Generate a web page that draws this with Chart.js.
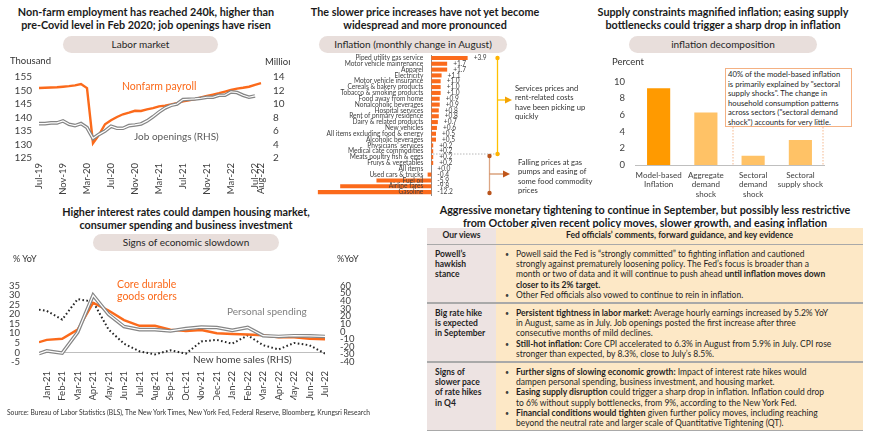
<!DOCTYPE html>
<html>
<head>
<meta charset="utf-8">
<script src="https://cdn.jsdelivr.net/npm/chart.js@4.4.0/dist/chart.umd.min.js"></script>
<style>
  body { margin: 0; width: 870px; height: 439px; background: #fff; position: relative; overflow: hidden;
         font-family: Lato, "Open Sans", sans-serif; color: #262626; }
  .abs { position: absolute; white-space: nowrap; }
  .title { position: absolute; font-weight: bold; font-size: 10.8px; line-height: 13px; text-align: center;
           white-space: nowrap; transform: translateX(-50%); color: #1a1a1a; }
  .pill { position: absolute; background: #e8dedb; border-radius: 9px; font-size: 10px; text-align: center;
          line-height: 17px; height: 17px; color: #262626; }
  canvas { position: absolute; }
  .note { position: absolute; font-size: 7.6px; line-height: 9.3px; color: #333; white-space: nowrap; }
  .tbl { position: absolute; left: 427px; top: 228px; width: 436px; height: 203px; background: #a9a9a9; }
  .cell { position: absolute; box-sizing: border-box; font-size: 8.5px; line-height: 10.2px; color: #1f1f1f; }
  .lc { left: 0; width: 69px; background: #ede3e2; padding: 4px 0 0 8px; font-weight: bold; }
  .rc { left: 69px; width: 367px; background: #fde8c6; padding: 4px 0 0 20px; white-space: nowrap; }
  .rc div { position: relative; }
  .rc div::before { content: "\2022"; position: absolute; left: -11px; top: 0; font-size: 7px; color: #404040; }
</style>
</head>
<body>

<!-- titles -->
<div class="title" style="left:146px;top:5px">Non-farm employment has reached 240k, higher than<br>pre-Covid level in Feb 2020; job openings have risen</div>
<div class="title" style="left:425px;top:5px">The slower price increases have not yet become<br>widespread and more pronounced</div>
<div class="title" style="left:723px;top:5px">Supply constraints magnified inflation; easing supply<br>bottlenecks could trigger a sharp drop in inflation</div>
<div class="title" style="left:186px;top:205px">Higher interest rates could dampen housing market,<br>consumer spending and business investment</div>
<div class="title" style="left:645px;top:203px">Aggressive monetary tightening to continue in September, but possibly less restrictive<br>from October given recent policy moves, slower growth, and easing inflation</div>

<div class="pill" style="left:63px;top:36px;width:155px">Labor market</div>
<div class="pill" style="left:319px;top:36px;width:188px">Inflation (monthly change in August)</div>
<div class="pill" style="left:629px;top:36px;width:188px">inflation decomposition</div>
<div class="pill" style="left:93px;top:234px;width:186px">Signs of economic slowdown</div>

<!-- chart 1 -->
<canvas id="laborChart" width="290" height="144" style="left:0;top:60px"></canvas>
<div class="abs" style="left:10px;top:55px;font-size:9.5px;color:#333">Thousand</div>
<div class="abs" style="left:265px;top:56px;width:25px;overflow:hidden;font-size:9.5px;color:#333">Million</div>
<div class="abs" style="left:122px;top:80px;font-size:10.5px;color:#fb6a1b">Nonfarm payroll</div>
<div class="abs" style="left:134px;top:130px;font-size:10px;color:#595959">Job openings (RHS)</div>

<!-- chart 2 -->
<canvas id="cpiChart" width="175" height="146" style="left:316px;top:52px"></canvas>
<svg class="abs" style="left:0;top:0" width="870" height="439">
  <line x1="433" y1="154" x2="500" y2="154" stroke="#a6a6a6" stroke-width="0.8" stroke-dasharray="1.5 1.5"/>
  <line x1="497.5" y1="58" x2="497.5" y2="154" stroke="#ffc000" stroke-width="1.3"/>
  <circle cx="497.5" cy="58" r="2.2" fill="#ffb300"/>
  <circle cx="497.5" cy="154" r="2.2" fill="#ffb300"/>
  <line x1="497.5" y1="100" x2="506" y2="100" stroke="#ffc000" stroke-width="1.3"/>
  <polygon points="505,96.5 512,100 505,103.5" fill="#f5a300"/>
  <line x1="489.5" y1="156" x2="489.5" y2="193" stroke="#dca684" stroke-width="1.3"/>
  <circle cx="489.5" cy="156" r="2.2" fill="#b9541c"/>
  <circle cx="489.5" cy="193" r="2.2" fill="#b9541c"/>
  <line x1="489.5" y1="174" x2="504" y2="174" stroke="#d08a5c" stroke-width="1.2"/>
  <polygon points="503,170.5 510,174 503,177.5" fill="#c0561a"/>
  <line x1="733" y1="127" x2="733" y2="165" stroke="#f4b183" stroke-width="0.9" stroke-dasharray="1.5 1.5"/>
  <line x1="823" y1="127" x2="823" y2="165" stroke="#f4b183" stroke-width="0.9" stroke-dasharray="1.5 1.5"/>
</svg>
<div class="note" style="left:515px;top:84px">Services prices and<br>rent-related costs<br>have been picking up<br>quickly</div>
<div class="note" style="left:518px;top:158px">Falling prices at gas<br>pumps and easing of<br>some food commodity<br>prices</div>

<!-- chart 3 -->
<canvas id="decompChart" width="235" height="142" style="left:595px;top:66px"></canvas>
<div class="abs" style="left:612px;top:56px;font-size:9.5px;color:#333">Percent</div>
<div class="abs" style="left:725px;top:68px;width:127px;height:59px;box-sizing:border-box;border:1px solid #f4b183;background:#fff;
     padding:1px 0 0 2px;font-size:7.7px;line-height:9.5px;color:#262626">40% of the model-based inflation<br>is primarily explained by "sectoral<br>supply shocks". The change in<br>household consumption patterns<br>across sectors ("sectoral demand<br>shock") accounts for very little.</div>

<!-- chart 4 -->
<canvas id="slowChart" width="370" height="150" style="left:0;top:262px"></canvas>
<div class="abs" style="left:13px;top:253px;font-size:9px;color:#333">% YoY</div>
<div class="abs" style="left:337px;top:253px;font-size:9px;color:#333">%YoY</div>
<div class="abs" style="left:117px;top:278px;font-size:10.5px;line-height:12px;color:#fb6a1b">Core durable<br>goods orders</div>
<div class="abs" style="left:227px;top:305px;font-size:10px;color:#7f7f7f">Personal spending</div>
<div class="abs" style="left:193px;top:353px;font-size:10px;color:#404040">New home sales (RHS)</div>

<!-- table -->
<div class="tbl">
  <div class="cell lc" style="top:0;height:16px;padding:2px 0 0 0;text-align:center">Our views</div>
  <div class="cell rc" style="top:0;height:16px;padding:2px 0 0 0;text-align:center;font-weight:bold">Fed officials’ comments, forward guidance, and key evidence</div>

  <div class="cell lc" style="top:17px;height:57px">Powell’s<br>hawkish<br>stance</div>
  <div class="cell rc" style="top:17px;height:57px">
    <div>Powell said the Fed is “strongly committed” to fighting inflation and cautioned<br>strongly against prematurely loosening policy. The Fed’s focus is broader than a<br>month or two of data and it will continue to push ahead <b>until inflation moves down<br>closer to its 2% target.</b></div>
    <div>Other Fed officials also vowed to continue to rein in inflation.</div>
  </div>

  <div class="cell lc" style="top:76px;height:57px">Big rate hike<br>is expected<br>in September</div>
  <div class="cell rc" style="top:76px;height:57px">
    <div><b>Persistent tightness in labor market:</b> Average hourly earnings increased by 5.2% YoY<br>in August, same as in July. Job openings posted the first increase after three<br>consecutive months of mild declines.</div>
    <div><b>Still-hot inflation:</b> Core CPI accelerated to 6.3% in August from 5.9% in July. CPI rose<br>stronger than expected, by 8.3%, close to July’s 8.5%.</div>
  </div>

  <div class="cell lc" style="top:135px;height:67px">Signs of<br>slower pace<br>of rate hikes<br>in Q4</div>
  <div class="cell rc" style="top:135px;height:67px">
    <div><b>Further signs of slowing economic growth:</b> Impact of interest rate hikes would<br>dampen personal spending, business investment, and housing market.</div>
    <div><b>Easing supply disruption</b> could trigger a sharp drop in inflation. Inflation could drop<br>to 6% without supply bottlenecks, from 9%, according to the New York Fed.</div>
    <div><b>Financial conditions would tighten</b> given further policy moves, including reaching<br>beyond the neutral rate and larger scale of Quantitative Tightening (QT).</div>
  </div>
</div>

<div class="abs" style="left:7px;top:408px;font-size:6.7px;color:#333">Source: Bureau of Labor Statistics (BLS), The New York Times, New York Fed, Federal Reserve, Bloomberg, Krungsri Research</div>

<script>
// ---- labor market (monthly, Jul-19 .. Aug-22) ----
const laborMonths = ['Jul-19','Aug-19','Sep-19','Oct-19','Nov-19','Dec-19','Jan-20','Feb-20','Mar-20','Apr-20',
  'May-20','Jun-20','Jul-20','Aug-20','Sep-20','Oct-20','Nov-20','Dec-20','Jan-21','Feb-21','Mar-21','Apr-21',
  'May-21','Jun-21','Jul-21','Aug-21','Sep-21','Oct-21','Nov-21','Dec-21','Jan-22','Feb-22','Mar-22','Apr-22',
  'May-22','Jun-22','Jul-22','Aug-22'];
const laborShown = ['Jul-19','Nov-19','Mar-20','Jul-20','Nov-20','Mar-21','Jul-21','Nov-21','Mar-22','Jul-22','Aug-22'];
const nonfarmPayroll = [150.9,151.0,151.1,151.2,151.4,151.6,151.9,152.4,150.9,130.5,133.6,137.5,139.0,140.2,141.2,
  141.8,142.5,142.4,143.0,143.5,144.1,144.4,144.8,145.3,146.0,146.4,146.8,147.4,148.0,148.5,149.0,149.6,150.2,
  150.7,151.0,151.4,152.1,152.7];
const jobOpenings = [7.1,7.1,7.2,7.2,7.5,7.0,6.8,7.1,6.5,4.9,5.5,6.0,6.7,6.4,6.4,6.8,6.9,7.05,7.5,8.1,8.8,9.4,
  9.8,10.0,10.65,10.7,10.75,10.85,11.0,11.0,11.3,11.3,11.8,11.7,11.3,11.0,11.2,null];

// ---- CPI monthly change in August ----
const cpiItems = ['Piped utility gas service','Motor vehicle mainrenance','Apparel','Electricity',
  'Motor vehicle insurance','Cereals & bakery products','Tobacco & smoking products','Food away from home',
  'Nonalcoholic beverages','Hospital services','Rent of primary residence','Dairy & related products',
  'New vehicles','All items excluding food & energy','Alcoholic beverages','Physicians\' services',
  'Medical cate commodities','Meats poultry fish & eggs','Fruiys & vegetables','All items',
  'Used cars & trucks','Fuel oil','Airline fares','Gasoline'];
const cpiChanges = [3.9,1.7,1.7,1.1,1.0,1.0,1.0,0.9,0.9,0.8,0.8,0.7,0.6,0.5,0.5,0.2,0.2,0.2,0.2,0.0,-0.4,-5.9,-9.8,-12.2];

// ---- inflation decomposition ----
const decompLabels = [['Model-based','Inflation'],['Aggregate','demand','shock'],['Sectoral','demand','shock'],['Sectoral','supply shock']];
const decompValues = [9.2, 6.3, 1.1, 3.0];

// ---- signs of slowdown ----
const slowMonths = ['Jan-21','Feb-21','Mar-21','Apr-21','May-21','Jun-21','Jul-21','Aug-21','Sep-21','Oct-21',
  'Nov-21','Dec-21','Jan-22','Feb-22','Mar-22','Apr-22','May-22','Jun-22','Jul-22'];
const slowX = [-0.5,0,1,2,3,4,5,6,7,8,9,10,11,12,13,14,15,16,17,18];
const coreDurable = [5.4,6.6,7.2,12.0,26.0,22.0,17.0,14.0,14.0,12.0,11.2,11.8,10.1,9.7,9.4,9.0,7.9,7.9,7.2,6.9];
const personalSpending = [-0.6,0.8,-0.3,10.6,30.0,20.0,13.6,12.0,12.0,11.3,12.5,13.3,13.1,11.6,13.1,8.8,8.4,8.8,8.7,8.4];
const newHomeSales = [28.7,27.0,15.7,42.5,39.0,2.6,-16.0,-26.0,-30.0,-24.6,-29.0,-13.0,-11.0,-16.0,-5.0,-18.0,-23.5,-15.0,-18.0,-29.0];

const ORANGE = '#fb6a1b';
const GREY = '#858585';
const FONT = 'Lato, "Open Sans", sans-serif';

Chart.defaults.font.family = FONT;
Chart.defaults.color = '#404040';
Chart.defaults.animation = false;
Chart.defaults.plugins.legend.display = false;
Chart.defaults.plugins.tooltip.enabled = false;

const noGrid = { display: false, drawTicks: false };
const noBorder = { display: false };

// chart 1: labor market
new Chart(document.getElementById('laborChart'), {
  type: 'line',
  data: {
    labels: laborMonths,
    datasets: [
      { data: jobOpenings, yAxisID: 'y1', borderColor: '#ffffff', borderWidth: 1.2, pointRadius: 0, order: 0 },
      { data: jobOpenings, yAxisID: 'y1', borderColor: GREY, borderWidth: 3.6, pointRadius: 0, order: 1 },
      { data: nonfarmPayroll, yAxisID: 'y', borderColor: ORANGE, borderWidth: 2.4, pointRadius: 0, order: 2 },
    ]
  },
  options: {
    responsive: false,
    layout: { padding: { top: 14, right: 0, bottom: 4, left: 0 } },
    scales: {
      x: {
        grid: noGrid, border: noBorder,
        afterFit: s => { s.height = 42; },
        ticks: {
          autoSkip: false, minRotation: 90, maxRotation: 90, padding: 5, font: { size: 9.5 },
          callback: function (v, i) { const l = laborMonths[i]; return laborShown.includes(l) ? l : ''; }
        }
      },
      y: {
        min: 125, max: 155, grid: noGrid, border: noBorder,
        afterFit: s => { s.width = 39; },
        ticks: { stepSize: 5, autoSkip: false, padding: 7, font: { size: 10, lineHeight: 1 } }
      },
      y1: {
        position: 'right', min: 2, max: 14, grid: noGrid, border: noBorder,
        afterFit: s => { s.width = 29; },
        ticks: { stepSize: 2, autoSkip: false, padding: 12, font: { size: 10, lineHeight: 1 } }
      }
    }
  }
});

// chart 2: CPI components, labels sit left of the zero line
const cpiLabels = {
  id: 'cpiLabels',
  afterDatasetsDraw(chart) {
    const { ctx, scales: { x, y } } = chart;
    const zero = x.getPixelForValue(0);
    ctx.save();
    ctx.font = '6.6px ' + FONT;
    ctx.fillStyle = '#404040';
    ctx.textBaseline = 'middle';
    ctx.textAlign = 'right';
    cpiItems.forEach((l, i) => ctx.fillText(l, zero - 8, y.getPixelForValue(i)));
    ctx.textAlign = 'left';
    cpiChanges.forEach((v, i) => {
      const txt = (v >= 0 ? '+' : '') + v.toFixed(1);
      ctx.fillText(txt, x.getPixelForValue(Math.max(v, 0)) + 6, y.getPixelForValue(i));
    });
    ctx.restore();
  }
};
new Chart(document.getElementById('cpiChart'), {
  type: 'bar',
  data: {
    labels: cpiItems,
    datasets: [{ data: cpiChanges, backgroundColor: ORANGE, barPercentage: 0.7, categoryPercentage: 1 }]
  },
  options: {
    responsive: false,
    indexAxis: 'y',
    layout: { padding: { top: 3, right: 15, bottom: 3, left: 0 } },
    scales: {
      x: { display: false, min: -12.4, max: 4.8 },
      y: {
        position: { x: 0 },
        grid: { display: false, drawTicks: false },
        border: { display: true, color: '#8c8c8c', width: 1 },
        ticks: { display: false }
      }
    }
  },
  plugins: [cpiLabels]
});

// chart 3: inflation decomposition
new Chart(document.getElementById('decompChart'), {
  type: 'bar',
  data: {
    labels: decompLabels,
    datasets: [{
      data: decompValues,
      backgroundColor: ['#ff9a00', '#ffc266', '#ffc266', '#ffc266'],
      barPercentage: 0.49, categoryPercentage: 1
    }]
  },
  options: {
    responsive: false,
    layout: { padding: { top: 9, right: 6, bottom: 8, left: 0 } },
    scales: {
      x: {
        grid: noGrid, border: { display: true, color: '#bfbfbf', width: 1 },
        afterFit: s => { s.height = 35; },
        ticks: { autoSkip: false, maxRotation: 0, padding: 6, font: { size: 8, lineHeight: 1.15 } }
      },
      y: {
        min: 0, max: 10, grid: noGrid, border: noBorder,
        afterFit: s => { s.width = 40; },
        ticks: { stepSize: 2, autoSkip: false, padding: 10, font: { size: 9.5 } }
      }
    }
  }
});

// chart 4: signs of economic slowdown
const pts = arr => arr.map((v, i) => ({ x: slowX[i], y: v }));
new Chart(document.getElementById('slowChart'), {
  type: 'line',
  data: {
    datasets: [
      { data: pts(personalSpending), yAxisID: 'y', borderColor: '#ffffff', borderWidth: 1.2, pointRadius: 0, order: 0 },
      { data: pts(personalSpending), yAxisID: 'y', borderColor: GREY, borderWidth: 3.6, pointRadius: 0, order: 1 },
      { data: pts(coreDurable), yAxisID: 'y', borderColor: ORANGE, borderWidth: 2.4, pointRadius: 0, order: 2 },
      { data: pts(newHomeSales), yAxisID: 'y1', borderColor: '#262626', borderWidth: 2, borderDash: [1.6, 2.4],
        pointRadius: 0, order: 3 }
    ]
  },
  options: {
    responsive: false,
    layout: { padding: { top: 10, right: 0, bottom: 12, left: 0 } },
    scales: {
      x: {
        type: 'linear', min: -0.5, max: 18, grid: noGrid, border: noBorder,
        afterFit: s => { s.height = 38; },
        ticks: {
          stepSize: 1, includeBounds: false, autoSkip: false, minRotation: 90, maxRotation: 90, padding: 9,
          font: { size: 9.5 },
          callback: v => (Number.isInteger(v) && slowMonths[v]) ? slowMonths[v] : ''
        }
      },
      y: {
        min: -5, max: 35, border: noBorder,
        grid: { drawTicks: false, color: c => (c.tick && c.tick.value === 0 ? '#bfbfbf' : 'transparent') },
        afterFit: s => { s.width = 39; },
        ticks: { stepSize: 5, autoSkip: false, padding: 19, font: { size: 9.5, lineHeight: 1 } }
      },
      y1: {
        position: 'right', min: -40, max: 60, grid: noGrid, border: noBorder,
        afterFit: s => { s.width = 45; },
        ticks: { stepSize: 10, autoSkip: false, padding: 15, font: { size: 9.5, lineHeight: 1 } }
      }
    }
  }
});
</script>
</body>
</html>
